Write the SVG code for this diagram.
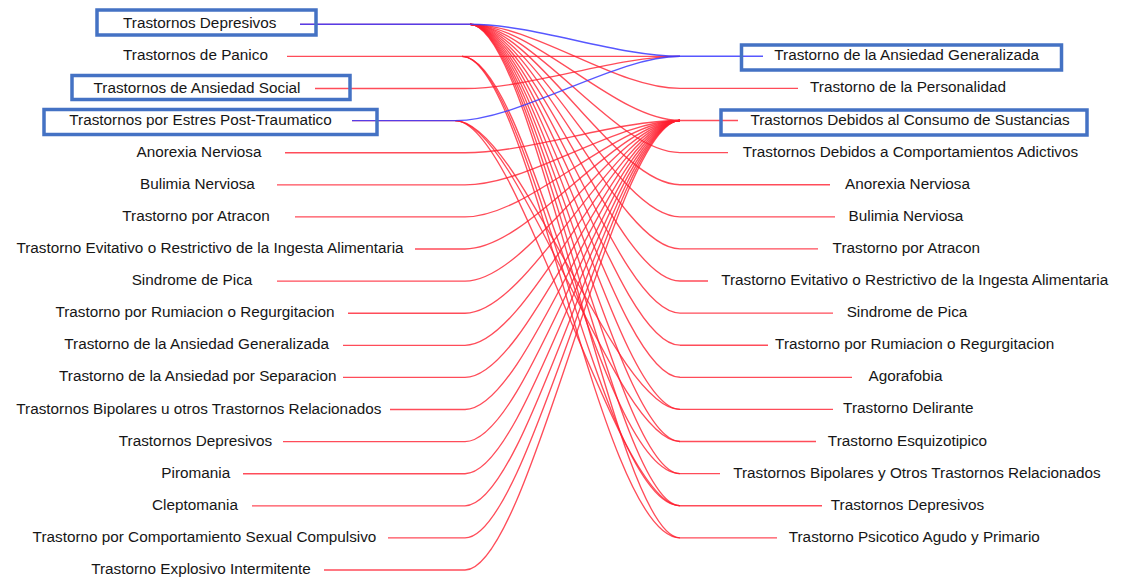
<svg xmlns="http://www.w3.org/2000/svg" width="1129" height="579" viewBox="0 0 1129 579">
<style>
.lbl{font-family:"Liberation Sans",Arial,sans-serif;font-size:15.3px;fill:#161616;text-anchor:middle}
.box{fill:none;stroke:#4472c4;stroke-width:3.5}
.r{fill:none;stroke:#ff1f2f;stroke-opacity:0.8;stroke-width:1.35}
.b{fill:none;stroke:#3a3aff;stroke-opacity:0.85;stroke-width:1.4}
</style>
<rect width="1129" height="579" fill="#ffffff"/>
<g id="connectors">
<path class="r" d="M287 56.4H462 M315 88.5H465 M285 152.7H465 M277 184.8H465 M295 216.9H465 M415 249H465 M277 281.1H465 M348 313.2H465 M343 345.3H465 M343 377.4H465 M390 409.5H465 M283 441.6H465 M243 473.7H465 M252 505.8H465 M388 537.9H465 M324 570H465"/>
<path class="r" d="M680 88.4H798 M680 120.5H738 M680 152.6H728 M680 184.7H830 M680 216.8H835 M680 248.9H818 M680 281H708 M680 313.1H833 M680 345.2H768 M680 377.3H852 M680 409.4H833 M680 441.5H816 M680 473.6H720 M680 505.7H822 M680 537.8H777"/>
<path class="r" d="M462 56.4L680 56.3"/>
<path class="r" d="M465 88.5C530 88.5 615 56.3 680 56.3"/>
<path class="r" d="M465 152.7C530 152.7 615 120.5 680 120.5"/>
<path class="r" d="M465 184.8C530 184.8 615 120.5 680 120.5"/>
<path class="r" d="M465 216.9C530 216.9 615 120.5 680 120.5"/>
<path class="r" d="M465 249C530 249 615 120.5 680 120.5"/>
<path class="r" d="M465 281.1C530 281.1 615 120.5 680 120.5"/>
<path class="r" d="M465 313.2C530 313.2 615 120.5 680 120.5"/>
<path class="r" d="M465 345.3C530 345.3 615 120.5 680 120.5"/>
<path class="r" d="M465 377.4C530 377.4 615 120.5 680 120.5"/>
<path class="r" d="M465 409.5C530 409.5 615 120.5 680 120.5"/>
<path class="r" d="M465 441.6C530 441.6 615 120.5 680 120.5"/>
<path class="r" d="M465 473.7C530 473.7 615 120.5 680 120.5"/>
<path class="r" d="M465 505.8C530 505.8 615 120.5 680 120.5"/>
<path class="r" d="M465 537.9C530 537.9 615 120.5 680 120.5"/>
<path class="r" d="M465 570C530 570 615 120.5 680 120.5"/>
<path class="r" d="M300 24.3H470"/>
<path class="r" d="M470 24.3C535 24.3 615 88.4 680 88.4"/>
<path class="r" d="M470 24.3C535 24.3 615 120.5 680 120.5"/>
<path class="r" d="M470 24.3C535 24.3 615 152.6 680 152.6"/>
<path class="r" d="M470 24.3C535 24.3 615 184.7 680 184.7"/>
<path class="r" d="M470 24.3C535 24.3 615 216.8 680 216.8"/>
<path class="r" d="M470 24.3C535 24.3 615 248.9 680 248.9"/>
<path class="r" d="M470 24.3C535 24.3 615 281 680 281"/>
<path class="r" d="M470 24.3C535 24.3 615 313.1 680 313.1"/>
<path class="r" d="M470 24.3C535 24.3 615 345.2 680 345.2"/>
<path class="r" d="M470 24.3C535 24.3 615 377.3 680 377.3"/>
<path class="r" d="M470 24.3C535 24.3 615 409.4 680 409.4"/>
<path class="r" d="M470 24.3C535 24.3 615 441.5 680 441.5"/>
<path class="r" d="M470 24.3C535 24.3 615 473.6 680 473.6"/>
<path class="r" d="M470 24.3C535 24.3 615 505.7 680 505.7"/>
<path class="r" d="M470 24.3C535 24.3 615 537.8 680 537.8"/>
<path class="r" d="M462 56.4C530 56.4 600 473.6 680 473.6"/>
<path class="r" d="M462 56.4C530 56.4 600 505.7 680 505.7"/>
<path class="r" d="M462 56.4C530 56.4 600 537.8 680 537.8"/>
<path class="r" d="M352 120.6H455"/>
<path class="r" d="M455 120.6C520 120.6 615 409.4 680 409.4"/>
<path class="r" d="M455 120.6C520 120.6 615 441.5 680 441.5"/>
<path class="r" d="M455 120.6C520 120.6 615 505.7 680 505.7"/>
<path class="b" d="M300 24.3H470C535 24.3 615 56.3 680 56.3H763"/>
<path class="b" d="M352 120.6H455C520 120.6 615 56.3 680 56.3"/>
</g>
<g id="left-0"><rect class="box" x="97" y="10" width="219" height="25"/><text class="lbl" x="199.7" y="28.3">Trastornos Depresivos</text></g>
<g id="left-1"><text class="lbl" x="195.5" y="60.4">Trastornos de Panico</text></g>
<g id="left-2"><rect class="box" x="72" y="75.5" width="278" height="24"/><text class="lbl" x="197" y="92.5">Trastornos de Ansiedad Social</text></g>
<g id="left-3"><rect class="box" x="44" y="109.5" width="333" height="25"/><text class="lbl" x="200.5" y="124.6">Trastornos por Estres Post-Traumatico</text></g>
<g id="left-4"><text class="lbl" x="199" y="156.7">Anorexia Nerviosa</text></g>
<g id="left-5"><text class="lbl" x="197.5" y="188.8">Bulimia Nerviosa</text></g>
<g id="left-6"><text class="lbl" x="196" y="220.9">Trastorno por Atracon</text></g>
<g id="left-7"><text class="lbl" x="210" y="253">Trastorno Evitativo o Restrictivo de la Ingesta Alimentaria</text></g>
<g id="left-8"><text class="lbl" x="192" y="285.1">Sindrome de Pica</text></g>
<g id="left-9"><text class="lbl" x="195" y="317.2">Trastorno por Rumiacion o Regurgitacion</text></g>
<g id="left-10"><text class="lbl" x="196.7" y="349.3">Trastorno de la Ansiedad Generalizada</text></g>
<g id="left-11"><text class="lbl" x="197.8" y="381.4">Trastorno de la Ansiedad por Separacion</text></g>
<g id="left-12"><text class="lbl" x="198.8" y="413.5">Trastornos Bipolares u otros Trastornos Relacionados</text></g>
<g id="left-13"><text class="lbl" x="195.5" y="445.6">Trastornos Depresivos</text></g>
<g id="left-14"><text class="lbl" x="195.8" y="477.7">Piromania</text></g>
<g id="left-15"><text class="lbl" x="195" y="509.8">Cleptomania</text></g>
<g id="left-16"><text class="lbl" x="204.5" y="541.9">Trastorno por Comportamiento Sexual Compulsivo</text></g>
<g id="left-17"><text class="lbl" x="201" y="574">Trastorno Explosivo Intermitente</text></g>
<g id="right-0"><rect class="box" x="741.5" y="45" width="320" height="25"/><text class="lbl" x="906.7" y="60.3">Trastorno de la Ansiedad Generalizada</text></g>
<g id="right-1"><text class="lbl" x="908" y="92.4">Trastorno de la Personalidad</text></g>
<g id="right-2"><rect class="box" x="721" y="110" width="366" height="25"/><text class="lbl" x="910" y="124.5">Trastornos Debidos al Consumo de Sustancias</text></g>
<g id="right-3"><text class="lbl" x="910.5" y="156.6">Trastornos Debidos a Comportamientos Adictivos</text></g>
<g id="right-4"><text class="lbl" x="907.5" y="188.7">Anorexia Nerviosa</text></g>
<g id="right-5"><text class="lbl" x="906" y="220.8">Bulimia Nerviosa</text></g>
<g id="right-6"><text class="lbl" x="906.3" y="252.9">Trastorno por Atracon</text></g>
<g id="right-7"><text class="lbl" x="914.7" y="285">Trastorno Evitativo o Restrictivo de la Ingesta Alimentaria</text></g>
<g id="right-8"><text class="lbl" x="907" y="317.1">Sindrome de Pica</text></g>
<g id="right-9"><text class="lbl" x="914.7" y="349.2">Trastorno por Rumiacion o Regurgitacion</text></g>
<g id="right-10"><text class="lbl" x="905.5" y="381.3">Agorafobia</text></g>
<g id="right-11"><text class="lbl" x="908.3" y="413.4">Trastorno Delirante</text></g>
<g id="right-12"><text class="lbl" x="907.5" y="445.5">Trastorno Esquizotipico</text></g>
<g id="right-13"><text class="lbl" x="917" y="477.6">Trastornos Bipolares y Otros Trastornos Relacionados</text></g>
<g id="right-14"><text class="lbl" x="907.5" y="509.7">Trastornos Depresivos</text></g>
<g id="right-15"><text class="lbl" x="914.3" y="541.8">Trastorno Psicotico Agudo y Primario</text></g>
</svg>
